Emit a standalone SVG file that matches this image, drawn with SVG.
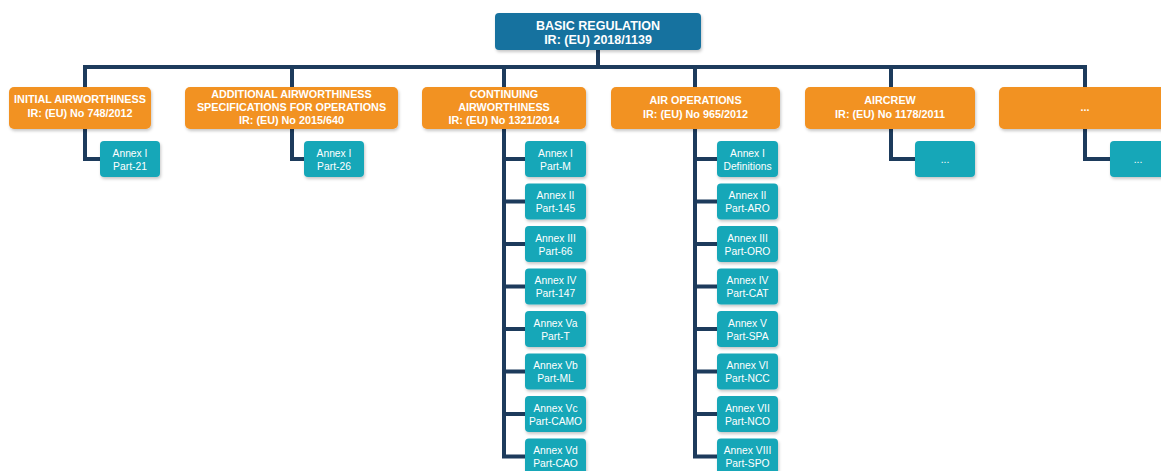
<svg xmlns="http://www.w3.org/2000/svg" width="1161" height="471" viewBox="0 0 1161 471">
<defs>
<filter id="sh" x="-20%" y="-20%" width="140%" height="150%">
<feDropShadow dx="1" dy="2" stdDeviation="1.5" flood-color="#000" flood-opacity="0.22"/>
</filter>
<style>
.top{fill:#17729f;filter:url(#sh)}
.reg{fill:#f29222;filter:url(#sh)}
.ann{fill:#17a7b8;filter:url(#sh)}
text{font-family:"Liberation Sans",Arial,sans-serif;fill:#fff;text-anchor:middle}
.tt{font-size:12.5px;font-weight:bold}
.rt{font-size:10.8px;font-weight:bold}
.at{font-size:10.3px}
.c{fill:none;stroke:#1d3b5c;stroke-width:4;stroke-linejoin:miter}
</style>
</defs>
<rect width="1161" height="471" fill="#fff"/>
<g id="connectors" class="c">
<path class="c" d="M598,49V67"/>
<path class="c" d="M85,87V67H1085V87"/>
<path class="c" d="M292,67V87M504,67V87M695,67V87M891,67V87"/>
<path class="c" d="M85,129V159H100"/>
<path class="c" d="M292,129V159H304"/>
<path class="c" d="M504,129V456.5H525M504,159H525M504,201.5H525M504,244H525M504,286.5H525M504,329H525M504,371.5H525M504,414H525"/>
<path class="c" d="M695,129V456.5H717M695,159H717M695,201.5H717M695,244H717M695,286.5H717M695,329H717M695,371.5H717M695,414H717"/>
<path class="c" d="M891,129V159H915"/>
<path class="c" d="M1085,129V159H1110"/>
</g>
<g id="basic"><rect class="top" x="495" y="13" width="206" height="37" rx="4"/><text class="tt" x="598" y="29.5">BASIC REGULATION</text><text class="tt" x="598" y="43.5">IR: (EU) 2018/1139</text></g>
<g id="initial"><rect class="reg" x="9" y="87" width="142" height="42" rx="5"/><text class="rt" x="80" y="103">INITIAL AIRWORTHINESS</text><text class="rt" x="80" y="117">IR: (EU) No 748/2012</text></g>
<g id="additional"><rect class="reg" x="185" y="87" width="213" height="42" rx="5"/><text class="rt" x="291.5" y="98">ADDITIONAL AIRWORTHINESS</text><text class="rt" x="291.5" y="111">SPECIFICATIONS FOR OPERATIONS</text><text class="rt" x="291.5" y="124">IR: (EU) No 2015/640</text></g>
<g id="continuing"><rect class="reg" x="422" y="87" width="164" height="42" rx="5"/><text class="rt" x="504" y="98">CONTINUING</text><text class="rt" x="504" y="111">AIRWORTHINESS</text><text class="rt" x="504" y="124">IR: (EU) No 1321/2014</text></g>
<g id="airops"><rect class="reg" x="611" y="87" width="169" height="42" rx="5"/><text class="rt" x="695.5" y="104">AIR OPERATIONS</text><text class="rt" x="695.5" y="117.5">IR: (EU) No 965/2012</text></g>
<g id="aircrew"><rect class="reg" x="805" y="87" width="170" height="42" rx="5"/><text class="rt" x="890" y="104">AIRCREW</text><text class="rt" x="890" y="117.5">IR: (EU) No 1178/2011</text></g>
<g id="more"><rect class="reg" x="999" y="87" width="175" height="42" rx="5"/><text class="rt" x="1085" y="111">...</text></g>
<g id="init-a1"><rect class="ann" x="100" y="141" width="60" height="36" rx="4"/><text class="at" x="130" y="156.5">Annex I</text><text class="at" x="130" y="169.5">Part-21</text></g>
<g id="add-a1"><rect class="ann" x="304" y="141" width="60" height="36" rx="4"/><text class="at" x="334" y="156.5">Annex I</text><text class="at" x="334" y="169.5">Part-26</text></g>
<g id="ca-a1"><rect class="ann" x="525" y="141" width="61" height="36" rx="4"/><text class="at" x="555.5" y="156.5">Annex I</text><text class="at" x="555.5" y="169.5">Part-M</text></g>
<g id="ca-a2"><rect class="ann" x="525" y="183.5" width="61" height="36" rx="4"/><text class="at" x="555.5" y="199">Annex II</text><text class="at" x="555.5" y="212">Part-145</text></g>
<g id="ca-a3"><rect class="ann" x="525" y="226" width="61" height="36" rx="4"/><text class="at" x="555.5" y="241.5">Annex III</text><text class="at" x="555.5" y="254.5">Part-66</text></g>
<g id="ca-a4"><rect class="ann" x="525" y="268.5" width="61" height="36" rx="4"/><text class="at" x="555.5" y="284">Annex IV</text><text class="at" x="555.5" y="297">Part-147</text></g>
<g id="ca-a5a"><rect class="ann" x="525" y="311" width="61" height="36" rx="4"/><text class="at" x="555.5" y="326.5">Annex Va</text><text class="at" x="555.5" y="339.5">Part-T</text></g>
<g id="ca-a5b"><rect class="ann" x="525" y="353.5" width="61" height="36" rx="4"/><text class="at" x="555.5" y="369">Annex Vb</text><text class="at" x="555.5" y="382">Part-ML</text></g>
<g id="ca-a5c"><rect class="ann" x="525" y="396" width="61" height="36" rx="4"/><text class="at" x="555.5" y="411.5">Annex Vc</text><text class="at" x="555.5" y="424.5">Part-CAMO</text></g>
<g id="ca-a5d"><rect class="ann" x="525" y="438.5" width="61" height="36" rx="4"/><text class="at" x="555.5" y="454">Annex Vd</text><text class="at" x="555.5" y="467">Part-CAO</text></g>
<g id="ao-a1"><rect class="ann" x="717" y="141" width="61" height="36" rx="4"/><text class="at" x="747.5" y="156.5">Annex I</text><text class="at" x="747.5" y="169.5">Definitions</text></g>
<g id="ao-a2"><rect class="ann" x="717" y="183.5" width="61" height="36" rx="4"/><text class="at" x="747.5" y="199">Annex II</text><text class="at" x="747.5" y="212">Part-ARO</text></g>
<g id="ao-a3"><rect class="ann" x="717" y="226" width="61" height="36" rx="4"/><text class="at" x="747.5" y="241.5">Annex III</text><text class="at" x="747.5" y="254.5">Part-ORO</text></g>
<g id="ao-a4"><rect class="ann" x="717" y="268.5" width="61" height="36" rx="4"/><text class="at" x="747.5" y="284">Annex IV</text><text class="at" x="747.5" y="297">Part-CAT</text></g>
<g id="ao-a5"><rect class="ann" x="717" y="311" width="61" height="36" rx="4"/><text class="at" x="747.5" y="326.5">Annex V</text><text class="at" x="747.5" y="339.5">Part-SPA</text></g>
<g id="ao-a6"><rect class="ann" x="717" y="353.5" width="61" height="36" rx="4"/><text class="at" x="747.5" y="369">Annex VI</text><text class="at" x="747.5" y="382">Part-NCC</text></g>
<g id="ao-a7"><rect class="ann" x="717" y="396" width="61" height="36" rx="4"/><text class="at" x="747.5" y="411.5">Annex VII</text><text class="at" x="747.5" y="424.5">Part-NCO</text></g>
<g id="ao-a8"><rect class="ann" x="717" y="438.5" width="61" height="36" rx="4"/><text class="at" x="747.5" y="454">Annex VIII</text><text class="at" x="747.5" y="467">Part-SPO</text></g>
<g id="ac-a1"><rect class="ann" x="915" y="141" width="60" height="36" rx="4"/><text class="at" x="945" y="162.5">...</text></g>
<g id="more-a1"><rect class="ann" x="1110" y="141" width="60" height="36" rx="4"/><text class="at" x="1138" y="162.5">...</text></g>
</svg>
